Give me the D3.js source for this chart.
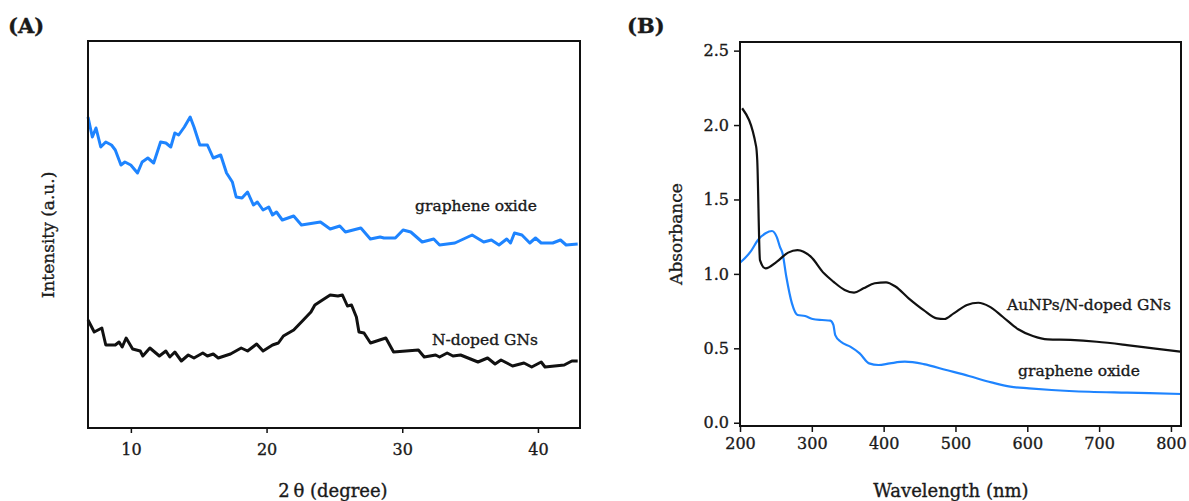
<!DOCTYPE html>
<html>
<head>
<meta charset="utf-8">
<script src="https://cdn.jsdelivr.net/npm/d3@7"></script>
<style>
  body { margin: 0; background: #fff; }
  text { font-family: "DejaVu Serif", serif; fill: #1a1a1a; stroke: #1a1a1a; stroke-width: 0.35px; }
</style>
</head>
<body>
<svg id="chart" width="1189" height="501"></svg>
<script>
// ---- panel A : XRD (2 theta, intensity a.u.) ----
const xrdAngle_GO = [6.84,7.16,7.43,7.78,8.15,8.57,8.85,9.27,9.56,9.99,10.49,10.83,11.25,11.68,12.19,12.58,12.94,13.24,13.52,13.94,14.37,14.65,15.08,15.64,16.07,16.62,17.05,17.48,17.76,18.19,18.60,19.03,19.32,19.74,20.16,20.44,20.73,21.16,22.00,22.57,23.97,24.69,25.40,25.81,26.95,27.65,28.37,28.65,29.49,30.06,30.63,31.47,32.32,32.75,33.88,35.15,36.00,36.57,37.13,37.70,37.98,38.27,38.82,39.40,39.82,40.24,41.09,41.66,42.08,42.93];
const xrdInt_GO = [311,291,300,281,286,283,278,263,266,263,255,266,270,265,286,285,281,295,293,301,311,301,283,283,270,273,255,246,231,230,236,223,226,218,221,213,216,208,212,203,206,199,202,196,200,189,191,190,190,198,196,186,189,183,185,193,186,188,183,189,185,195,193,185,190,185,185,188,183,184];

const xrdAngle_NG = [6.84,7.30,7.86,8.15,8.85,9.13,9.36,9.65,10.13,10.69,10.88,11.40,12.10,12.58,12.87,13.24,13.72,14.23,14.65,15.30,15.64,16.07,16.44,17.34,18.13,18.60,19.27,19.74,20.44,20.87,21.24,22.00,22.71,23.27,23.56,24.12,24.69,25.26,25.59,25.96,26.26,26.62,26.81,27.18,27.66,28.79,29.36,31.19,31.62,32.46,32.75,33.31,33.74,34.30,35.58,36.29,36.84,37.28,38.13,38.97,39.54,40.24,40.52,41.94,42.50,42.93];
const xrdInt_NG = [108,96,100,83,83,86,81,90,79,77,72,80,72,77,71,76,67,73,70,75,72,74,70,74,80,77,84,77,83,85,92,98,108,116,123,128,133,132,133,122,123,111,96,95,85,90,76,78,71,73,71,75,72,73,66,70,64,68,62,65,61,66,61,63,67,67];

const xrdTicks = [10, 20, 30, 40];

// ---- panel B : UV-vis (wavelength nm, absorbance) ----
const uvWl_Au = [203,222.5,224,227.8,235.6,251.4,267,280,298.5,316.9,330,345.7,358.8,371.9,387.6,403.3,416.4,434.8,455.7,474,484.5,497.6,516,531.7,547.4,565.7,586.7,607.7,628.6,660,696.8,738.7,775.4,814.7];
const uvAbs_Au = [2.113,1.855,1.765,1.093,1.037,1.082,1.143,1.160,1.116,1.004,0.948,0.892,0.874,0.903,0.937,0.943,0.915,0.836,0.757,0.701,0.697,0.735,0.791,0.806,0.780,0.712,0.630,0.583,0.560,0.556,0.544,0.522,0.500,0.477];

const uvWl_GO = [200,214.7,225,235.6,244.5,251.4,255.5,259.2,264.5,272.3,280.2,290.7,301.1,314.2,325.8,330,332.6,340.4,353.5,366.6,379.7,392.8,408.6,429.5,455.7,487.2,518.6,550,576.2,602.4,633.9,686.3,738.7,814.7];
const uvAbs_GO = [1.075,1.149,1.228,1.273,1.288,1.245,1.183,1.138,0.981,0.802,0.724,0.717,0.697,0.690,0.686,0.657,0.589,0.544,0.511,0.466,0.399,0.388,0.399,0.410,0.394,0.354,0.314,0.271,0.242,0.231,0.220,0.208,0.202,0.193];

const uvXTicks = [200, 300, 400, 500, 600, 700, 800];
const uvYTicks = [0.0, 0.5, 1.0, 1.5, 2.0, 2.5];

const blue = "#1e84ff";
const svg = d3.select("#chart");

// ================= panel A =================
const pa = { left: 88, right: 580, top: 41, bottom: 428 };
const xA = d3.scaleLinear().domain([6.84, 43.1]).range([pa.left, pa.right]);
const yA = d3.scaleLinear().domain([0, 387]).range([pa.bottom, pa.top]);

const gA = svg.append("g");
const lineA = d3.line().x(d => xA(d[0])).y(d => yA(d[1]));

gA.append("path")
  .datum(d3.zip(xrdAngle_GO, xrdInt_GO))
  .attr("d", lineA)
  .attr("fill", "none").attr("stroke", blue).attr("stroke-width", 3)
  .attr("stroke-linejoin", "round");

gA.append("path")
  .datum(d3.zip(xrdAngle_NG, xrdInt_NG))
  .attr("d", lineA)
  .attr("fill", "none").attr("stroke", "#111").attr("stroke-width", 3)
  .attr("stroke-linejoin", "round");

gA.append("rect")
  .attr("x", pa.left).attr("y", pa.top)
  .attr("width", pa.right - pa.left).attr("height", pa.bottom - pa.top)
  .attr("fill", "none").attr("stroke", "#111").attr("stroke-width", 2);

const axA = gA.append("g")
  .attr("transform", `translate(0,${pa.bottom})`)
  .call(d3.axisBottom(xA).tickValues(xrdTicks).tickSize(5).tickPadding(11).tickFormat(d3.format("d")));
axA.select(".domain").remove();
axA.selectAll("line").attr("stroke", "#111").attr("stroke-width", 1.5);
axA.selectAll("text").style("font-size", "16px").style("font-family", "DejaVu Serif").attr("fill", "#1a1a1a");

gA.append("text").attr("x", 333).attr("y", 497).attr("text-anchor", "middle")
  .style("font-size", "18px").text("2\u2009\u03B8 (degree)");
gA.append("text").attr("transform", "translate(54,235) rotate(-90)")
  .attr("text-anchor", "middle").style("font-size", "17px").text("Intensity (a.u.)");
gA.append("text").attr("x", 8).attr("y", 33).style("font-size", "21px").style("font-weight", "bold").text("(A)");

gA.append("text").attr("x", 476).attr("y", 211).attr("text-anchor", "middle")
  .style("font-size", "15.5px").text("graphene oxide");
gA.append("text").attr("x", 485).attr("y", 345).attr("text-anchor", "middle")
  .style("font-size", "15.5px").text("N-doped GNs");

// ================= panel B =================
const pb = { left: 740, right: 1181, top: 42, bottom: 426 };
const xB = d3.scaleLinear().domain([200, 814]).range([pb.left, pb.right]);
const yB = d3.scaleLinear().domain([-0.022, 2.558]).range([pb.bottom, pb.top]);

const gB = svg.append("g");
const lineB = d3.line().x(d => xB(d[0])).y(d => yB(d[1])).curve(d3.curveMonotoneX);

gB.append("path")
  .datum(d3.zip(uvWl_GO, uvAbs_GO))
  .attr("d", lineB)
  .attr("fill", "none").attr("stroke", blue).attr("stroke-width", 2.2);

gB.append("path")
  .datum(d3.zip(uvWl_Au, uvAbs_Au))
  .attr("d", lineB)
  .attr("fill", "none").attr("stroke", "#111").attr("stroke-width", 2.2);

gB.append("rect")
  .attr("x", pb.left).attr("y", pb.top)
  .attr("width", pb.right - pb.left).attr("height", pb.bottom - pb.top)
  .attr("fill", "none").attr("stroke", "#111").attr("stroke-width", 2);

const axBx = gB.append("g")
  .attr("transform", `translate(0,${pb.bottom})`)
  .call(d3.axisBottom(xB).tickValues(uvXTicks).tickSize(6).tickPadding(6).tickFormat(d3.format("d")));
const axBy = gB.append("g")
  .attr("transform", `translate(${pb.left},0)`)
  .call(d3.axisLeft(yB).tickValues(uvYTicks).tickSize(6).tickPadding(5).tickFormat(d3.format(".1f")));
[axBx, axBy].forEach(ax => {
  ax.select(".domain").remove();
  ax.selectAll("line").attr("stroke", "#111").attr("stroke-width", 1.5);
  ax.selectAll("text").style("font-size", "16px").style("font-family", "DejaVu Serif").attr("fill", "#1a1a1a");
});

gB.append("text").attr("x", 951).attr("y", 497).attr("text-anchor", "middle")
  .style("font-size", "18px").text("Wavelength (nm)");
gB.append("text").attr("transform", "translate(682,234) rotate(-90)")
  .attr("text-anchor", "middle").style("font-size", "17px").text("Absorbance");
gB.append("text").attr("x", 627).attr("y", 33).style("font-size", "21px").style("font-weight", "bold").text("(B)");

gB.append("text").attr("x", 1089).attr("y", 310).attr("text-anchor", "middle")
  .style("font-size", "15.5px").text("AuNPs/N-doped GNs");
gB.append("text").attr("x", 1079).attr("y", 376).attr("text-anchor", "middle")
  .style("font-size", "15.5px").text("graphene oxide");
</script>
</body>
</html>
